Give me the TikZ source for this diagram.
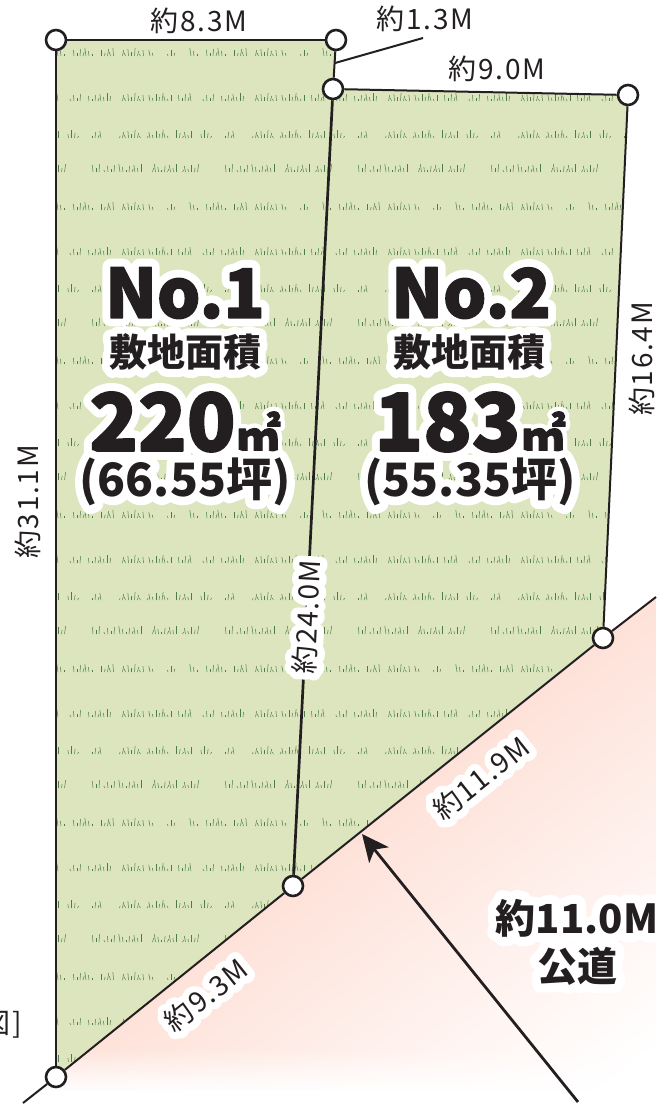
\documentclass[tikz,border=0pt]{standalone}
\usepackage{fontspec}
\setmainfont{Noto Sans CJK JP}
\usetikzlibrary{arrows.meta,backgrounds,fadings}
\definecolor{inkdark}{HTML}{231F20}
\definecolor{lotgreen}{HTML}{DCE5BD}
\definecolor{grassgreen}{HTML}{4C7D48}
\definecolor{roadpink}{HTML}{FEE2D9}
\pgfdeclareverticalshading{roadfade}{100bp}{color(0bp)=(white);color(39bp)=(white);color(50bp)=(roadpink);color(100bp)=(roadpink)}
% white rim behind a label: #1 fake bold amount, #2 text
\newcommand{\halotext}[2]{\pgfsetroundjoin\leavevmode\rlap{\addfontfeature{FakeBold=#1}\color{white}#2}#2}
% same, for the heaviest titles
\newcommand{\halotitle}[2]{\pgfsetroundjoin\leavevmode\rlap{\addfontfeature{FakeBold=#1}\color{white}#2}{\addfontfeature{FakeBold=2}#2}}
\newcommand{\fsize}[1]{\fontsize{#1}{#1}\selectfont}
\tikzset{
  corner/.style={circle,draw=inkdark,fill=white,line width=2.6pt,minimum size=20pt,inner sep=0pt},
  lotline/.style={draw=inkdark,line width=2pt},
  dimlabel/.style={text=inkdark,inner sep=0pt,font=\fsize{28}\addfontfeature{LetterSpace=6}},
  titlelabel/.style={text=inkdark,inner sep=0pt,align=center,font=\bfseries},
  grasstile/.pic={
    \foreach \rowy/\tufts in {53/{73/93,101/114,122/145,150/155,168/176,190/196},
      98/{70/80,88/110,122/143,150/172,178/192},
      135/{68/78,91/101,119/142,147/170,176/192},
      169/{93/100,105/115,120/141,152/176,182/199}}
      \foreach \xa/\xb in \tufts
        \foreach \xx in {\xa,\the\numexpr\xa+3\relax,...,\xb}{
          \pgfmathsetmacro{\bladeh}{2+mod(\xx*13,7)}
          \pgfmathsetmacro{\bladet}{0.6*(mod(\xx*7,5)-2)}
          \pgfmathsetmacro{\bladex}{\xx+0.5*mod(\xx*5,3)}
          \draw[grassgreen,line width=0.5pt] (\bladex,\rowy+3) -- ++(\bladet,-\bladeh);
        }
  }
}
\begin{document}
\begin{tikzpicture}[x=1pt,y=-1pt]
\useasboundingbox (0,0) rectangle (656,1105);
% corners
\node[corner] (c1) at (56,40) {};
\node[corner] (c2) at (336,40) {};
\node[corner] (c3) at (333,89) {};
\node[corner] (c4) at (628,95) {};
\node[corner] (c5) at (603,638) {};
\node[corner] (c6) at (293,886) {};
\node[corner] (c7) at (56,1077) {};
\coordinate (roadne) at (656,597);
\coordinate (roadsw) at (23,1103);
\coordinate (leadera) at (335,63);
\coordinate (leaderb) at (423,38);
\coordinate (arrowtail) at (578,1102);
\coordinate (arrowhead) at (362,834);
\begin{scope}[on background layer]
% road
\begin{scope}
\clip (roadsw) -- (roadne) -- (656,1105) -- (23,1105) -- cycle;
\shade[shading=roadfade,shading angle=38] (-507,86) rectangle (1093,1686);
\fill[white,path fading=north] (0,1048) rectangle (656,1092);
\fill[white] (0,1091) rectangle (656,1105);
\end{scope}
% lots
\fill[lotgreen] (c1.center) -- (c2.center) -- (c3.center) -- (c4.center) -- (c5.center) -- (c6.center) -- (c7.center) -- cycle;
\begin{scope}
\clip (c1.center) -- (c2.center) -- (c3.center) -- (c4.center) -- (c5.center) -- (c6.center) -- (c7.center) -- cycle;
\foreach \row in {0,...,6}
  \foreach \col in {-1,...,4}
    \pic at (\col*133,\row*154) {grasstile};
\end{scope}
\draw[lotline] (c1) -- (c2);
\draw[lotline] (c2) -- (c3);
\draw[lotline] (c3) -- (c4);
\draw[lotline] (c4) -- (c5);
\draw[lotline] (c1) -- (c7);
\draw[lotline,line width=2.7pt] (c3) -- (c6);
\draw[lotline] (roadsw) -- (c7);
\draw[lotline] (c7) -- (c6);
\draw[lotline] (c6) -- (c5);
\draw[lotline] (c5) -- (roadne);
\draw[lotline] (leadera) -- (leaderb);
\draw[inkdark,line width=2.8pt,-{Stealth[length=27pt,width=25pt,inset=7pt]}] (arrowtail) -- (arrowhead);
\end{scope}
% lengths
\node[dimlabel] (len1) at (199,21) {約8.3M};
\node[dimlabel] (len2) at (425,19) {約1.3M};
\node[dimlabel] (len3) at (497,69) {約9.0M};
\node[dimlabel,rotate=90] (len4) at (642,359) {約16.4M};
\node[dimlabel,rotate=90] (len5) at (28,502) {約31.1M};
\node[dimlabel,rotate=87] (len6) at (307,617) {\halotext{50}{約24.0M}};
\node[dimlabel,rotate=38.5] (len7) at (481,778) {\halotext{50}{約11.9M}};
\node[dimlabel,rotate=38.5] (len8) at (206,995) {\halotext{50}{約9.3M}};
\node[dimlabel,anchor=east] (cutoff) at (22,1025) {図]};
% lot No.1
\node[titlelabel,font=\bfseries\fsize{68}] (no1) at (185,293) {\halotitle{25}{No.1}};
\node[titlelabel,font=\bfseries\fsize{38}] (area1) at (185,352) {\halotext{40}{敷地面積}};
\node[titlelabel,font=\bfseries\fsize{80}] (size1) at (185,422) {\halotitle{22}{220{\fsize{45}㎡}}};
\node[titlelabel,font=\bfseries\fsize{46}] (tsubo1) at (185,482) {\halotext{35}{(66.55坪)}};
% lot No.2
\node[titlelabel,font=\bfseries\fsize{68}] (no2) at (471,293) {\halotitle{25}{No.2}};
\node[titlelabel,font=\bfseries\fsize{38}] (area2) at (469,352) {\halotext{40}{敷地面積}};
\node[titlelabel,font=\bfseries\fsize{80}] (size2) at (470,422) {\halotitle{22}{183{\fsize{45}㎡}}};
\node[titlelabel,font=\bfseries\fsize{46}] (tsubo2) at (470,482) {\halotext{35}{(55.35坪)}};
% road
\node[titlelabel,font=\bfseries\fsize{40}] (roadwidth) at (577,918) {\halotext{45}{約11.0M}};
\node[titlelabel,font=\bfseries\fsize{40}] (roadname) at (577,966) {\halotext{45}{公道}};
\end{tikzpicture}
\end{document}
